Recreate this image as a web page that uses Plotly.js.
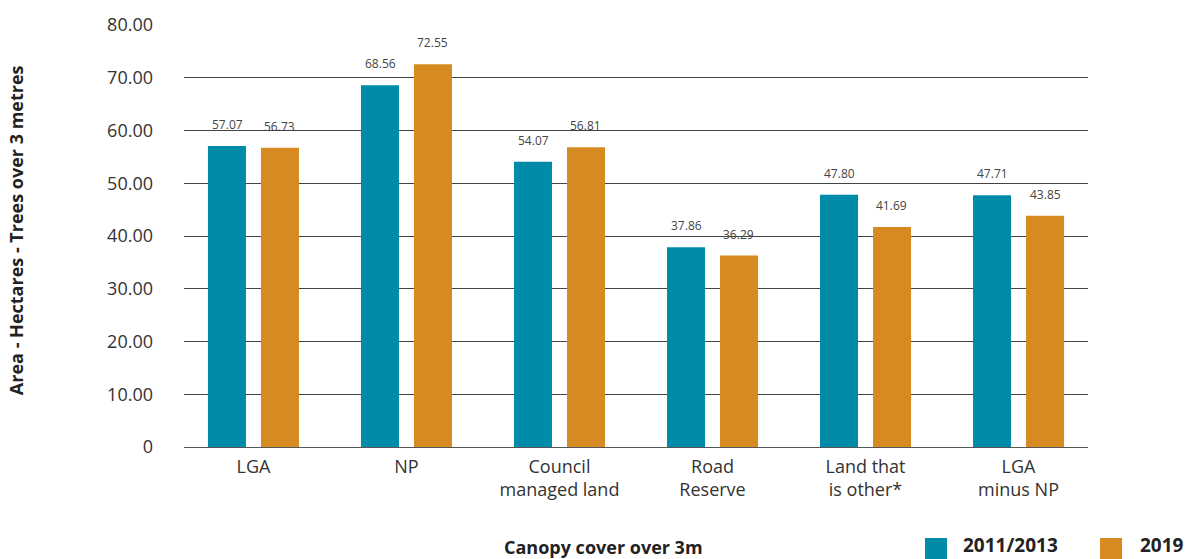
<!DOCTYPE html>
<html>
<head>
<meta charset="utf-8">
<script src="https://cdn.plot.ly/plotly-3.0.1.min.js"></script>
<style>html,body{margin:0;padding:0;background:#fff;}#chart{width:1186px;height:559px;}</style>
</head>
<body>
<div id="chart"></div>
<script>
const categories = ["LGA", "NP", "Council<br>managed land", "Road<br>Reserve", "Land that<br>is other*", "LGA<br>minus NP"];
const series2011 = [57.07, 68.56, 54.07, 37.86, 47.80, 47.71];
const series2019 = [56.73, 72.55, 56.81, 36.29, 41.69, 43.85];
const seriesNames = ["2011/2013", "2019"];
const yTickVals = [0, 10, 20, 30, 40, 50, 60, 70, 80];
const yTickText = ["0", "10.00", "20.00", "30.00", "40.00", "50.00", "60.00", "70.00", "80.00"];

const teal = "#008BA9";
const orange = "#D68B22";
const FONT = "'Open Sans', sans-serif";

const traces = [
  {type: "bar", name: seriesNames[0], x: categories, y: series2011, marker: {color: teal}, showlegend: false, hoverinfo: "y"},
  {type: "bar", name: seriesNames[1], x: categories, y: series2019, marker: {color: orange}, showlegend: false, hoverinfo: "y"}
];

const annotations = [];
const off = 0.173;
categories.forEach((c, i) => {
  annotations.push({x: i - off, y: series2011[i], xref: "x", yref: "y", text: series2011[i].toFixed(2), showarrow: false, yanchor: "bottom", yshift: 11, font: {family: FONT, size: 12, color: "#444"}});
  annotations.push({x: i + off, y: series2019[i], xref: "x", yref: "y", text: series2019[i].toFixed(2), showarrow: false, yanchor: "bottom", yshift: 11, font: {family: FONT, size: 12, color: "#444"}});
});
// axis titles
annotations.push({xref: "paper", yref: "paper", x: 0.4635, y: -0.238, text: "<b>Canopy cover over 3m</b>", showarrow: false, xanchor: "center", yanchor: "middle", font: {family: FONT, size: 18, color: "#222"}});
annotations.push({xref: "paper", yref: "paper", x: -0.1858, y: 0.514, text: "<b>Area - Hectares - Trees over 3 metres</b>", showarrow: false, textangle: -90, xanchor: "center", yanchor: "middle", font: {family: FONT, size: 18, color: "#222"}});
// legend texts
annotations.push({xref: "paper", yref: "paper", x: 0.8595, y: -0.233, text: "<b>" + seriesNames[0] + "</b>", showarrow: false, xanchor: "left", yanchor: "middle", font: {family: FONT, size: 19, color: "#222"}});
annotations.push({xref: "paper", yref: "paper", x: 1.0553, y: -0.233, text: "<b>" + seriesNames[1] + "</b>", showarrow: false, xanchor: "left", yanchor: "middle", font: {family: FONT, size: 19, color: "#222"}});

const shapes = [
  {type: "rect", xref: "paper", yref: "paper", x0: 0.8197, x1: 0.8440, y0: -0.2156, y1: -0.30, fillcolor: teal, line: {width: 0}},
  {type: "rect", xref: "paper", yref: "paper", x0: 1.0133, x1: 1.0376, y0: -0.2156, y1: -0.30, fillcolor: orange, line: {width: 0}}
];

const layout = {
  width: 1186, height: 559,
  margin: {l: 184, r: 98, t: 25, b: 112},
  paper_bgcolor: "#fff", plot_bgcolor: "#fff",
  barmode: "group", bargap: 0.307, bargroupgap: 0.283,
  showlegend: false,
  font: {family: FONT, color: "#333"},
  xaxis: {
    type: "category", range: [-0.454, 5.454], showgrid: false, zeroline: false, showline: false,
    ticks: "", ticklabelstandoff: 7, tickfont: {family: FONT, size: 18, color: "#333"}, automargin: false
  },
  yaxis: {
    range: [0, 80], tickvals: yTickVals, ticktext: yTickText,
    showgrid: true, gridcolor: "#444", gridwidth: 1, zeroline: true, zerolinecolor: "#555", zerolinewidth: 1,
    showline: false, ticks: "", ticklabelstandoff: 30,
    tickfont: {family: FONT, size: 18, color: "#333"}, automargin: false
  },
  annotations: annotations,
  shapes: shapes
};

Plotly.newPlot("chart", traces, layout, {displayModeBar: false, staticPlot: true});
</script>
</body>
</html>
